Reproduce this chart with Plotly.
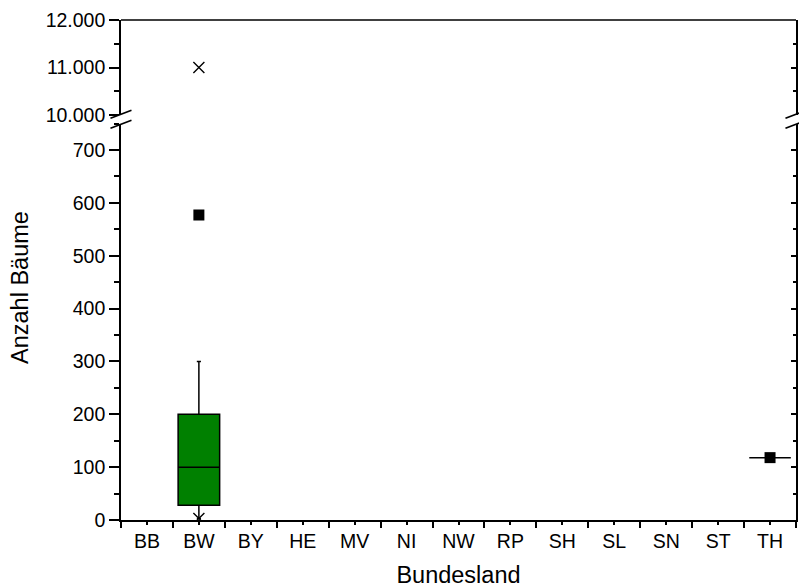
import plotly.graph_objects as go

# Bundesländer on the category axis
states = ["BB", "BW", "BY", "HE", "MV", "NI", "NW", "RP", "SH", "SL", "SN", "ST", "TH"]

# Box statistics (number of trees) for the states that have data
box_states = ["BW", "TH"]
box_q1 = [28, 118]
box_median = [100, 118]
box_q3 = [200, 118]
box_low = [3, 118]
box_high = [300, 118]
box_mean = [577, 118]
# extreme values shown as crosses
ext_state = ["BW", "BW"]
ext_value = [3, 11000]

# axis scales of the broken y axis
lower_ticks = [0, 100, 200, 300, 400, 500, 600, 700]
upper_ticks = [10000, 11000, 12000]
upper_labels = ["10.000", "11.000", "12.000"]

font_family = "Liberation Sans, Arial, sans-serif"
BLACK = "#000000"
GREEN = "#008000"

W, H = 799, 588
L, R, T, B = 121, 3, 20, 68
plot_h = H - T - B
lower_top = 0.7928
upper_bottom = 0.81

xpos = {s: i + 1 for i, s in enumerate(states)}

fig = go.Figure()

for i, s in enumerate(box_states):
    fig.add_trace(go.Box(
        x=[xpos[s]], q1=[box_q1[i]], median=[box_median[i]], q3=[box_q3[i]],
        lowerfence=[box_low[i]], upperfence=[box_high[i]],
        width=0.8, whiskerwidth=0.1, boxpoints=False,
        fillcolor=GREEN, line=dict(color=BLACK, width=1.5),
        showlegend=False, hoverinfo="skip", xaxis="x", yaxis="y",
    ))

# means as filled squares
fig.add_trace(go.Scatter(
    x=[xpos[s] for s in box_states], y=box_mean, mode="markers",
    marker=dict(symbol="square", size=11, color=BLACK),
    showlegend=False, xaxis="x", yaxis="y",
))

# extreme values as crosses, split by axis segment
for s, v in zip(ext_state, ext_value):
    fig.add_trace(go.Scatter(
        x=[xpos[s]], y=[v], mode="markers",
        marker=dict(symbol="x-thin", size=11, line=dict(color=BLACK, width=1.4)),
        showlegend=False, xaxis="x", yaxis="y2" if v >= 10000 else "y",
    ))

# placeholder traces so the right-hand overlay axes are drawn
for ax in ["y3", "y4"]:
    fig.add_trace(go.Scatter(x=[None], y=[None], xaxis="x", yaxis=ax,
                             showlegend=False, hoverinfo="skip"))

tick_font = dict(family=font_family, size=19.5, color=BLACK)
title_size = 23.5

fig.update_layout(
    width=W, height=H,
    margin=dict(l=L, r=R, t=T, b=B),
    paper_bgcolor="white", plot_bgcolor="white",
    font=dict(family=font_family, color=BLACK),
    xaxis=dict(
        range=[0.5, len(states) + 0.5],
        tickvals=list(range(1, len(states) + 1)), ticktext=states,
        ticks="outside", ticklen=3, tickwidth=1.5, tickcolor=BLACK,
        minor=dict(tickvals=[i + 0.5 for i in range(len(states) + 1)],
                   ticks="outside", ticklen=6, tickwidth=1.5, tickcolor=BLACK),
        showline=True, linewidth=1.6, linecolor=BLACK,
        showgrid=False, zeroline=False, tickfont=tick_font,
        title=dict(text="Bundesland", font=dict(size=title_size, family=font_family), standoff=17),
        anchor="y",
    ),
    yaxis=dict(
        domain=[0, lower_top], range=[0, 750],
        tickvals=lower_ticks,
        ticks="outside", ticklen=10, tickwidth=1.5, tickcolor=BLACK,
        minor=dict(dtick=50, tick0=0, ticks="outside", ticklen=5, tickwidth=1.5, tickcolor=BLACK),
        showline=True, linewidth=1.6, linecolor=BLACK,
        showgrid=False, zeroline=False, tickfont=tick_font, anchor="x",
    ),
    yaxis2=dict(
        domain=[upper_bottom, 1], range=[10000, 12000],
        tickvals=upper_ticks, ticktext=upper_labels,
        ticks="outside", ticklen=10, tickwidth=1.5, tickcolor=BLACK,
        minor=dict(dtick=500, tick0=10000, ticks="outside", ticklen=5, tickwidth=1.5, tickcolor=BLACK),
        showline=True, linewidth=1.6, linecolor=BLACK,
        showgrid=False, zeroline=False, tickfont=tick_font, anchor="x",
    ),
    yaxis3=dict(
        overlaying="y", side="right", range=[0, 750], anchor="x",
        tickvals=lower_ticks, showticklabels=False,
        ticks="inside", ticklen=5, tickwidth=1.5, tickcolor=BLACK,
        minor=dict(dtick=50, tick0=0, ticks="inside", ticklen=3, tickwidth=1.5, tickcolor=BLACK),
        showline=True, linewidth=1.6, linecolor=BLACK,
        showgrid=False, zeroline=False,
    ),
    yaxis4=dict(
        overlaying="y2", side="right", range=[10000, 12000], anchor="x",
        tickvals=upper_ticks, showticklabels=False,
        ticks="inside", ticklen=5, tickwidth=1.5, tickcolor=BLACK,
        minor=dict(dtick=500, tick0=10000, ticks="inside", ticklen=3, tickwidth=1.5, tickcolor=BLACK),
        showline=True, linewidth=1.6, linecolor=BLACK,
        showgrid=False, zeroline=False,
    ),
)

# frame line along the top
fig.add_shape(type="line", xref="paper", yref="paper", x0=0, x1=1, y0=1, y1=1,
              line=dict(color=BLACK, width=1.6))

# axis break marks: two parallel slashes on each side
plot_w = W - L - R
dx = 10.5 / plot_w
mid = (lower_top + upper_bottom) / 2
for xc in [0, 1]:
    for off in [-5.0, 5.0]:
        yc = mid + off / plot_h
        fig.add_shape(type="line", xref="paper", yref="paper",
                      x0=xc - dx, x1=xc + dx,
                      y0=yc - 4 / plot_h, y1=yc + 4 / plot_h,
                      line=dict(color=BLACK, width=1.6))

# y axis title spanning both segments
fig.add_annotation(text="Anzahl Bäume", xref="paper", yref="paper",
                   x=-101 / plot_w, y=(H - B - 287) / plot_h, textangle=-90,
                   showarrow=False, xanchor="center", yanchor="middle",
                   font=dict(size=title_size, family=font_family, color=BLACK))

fig.write_html("out.html")
